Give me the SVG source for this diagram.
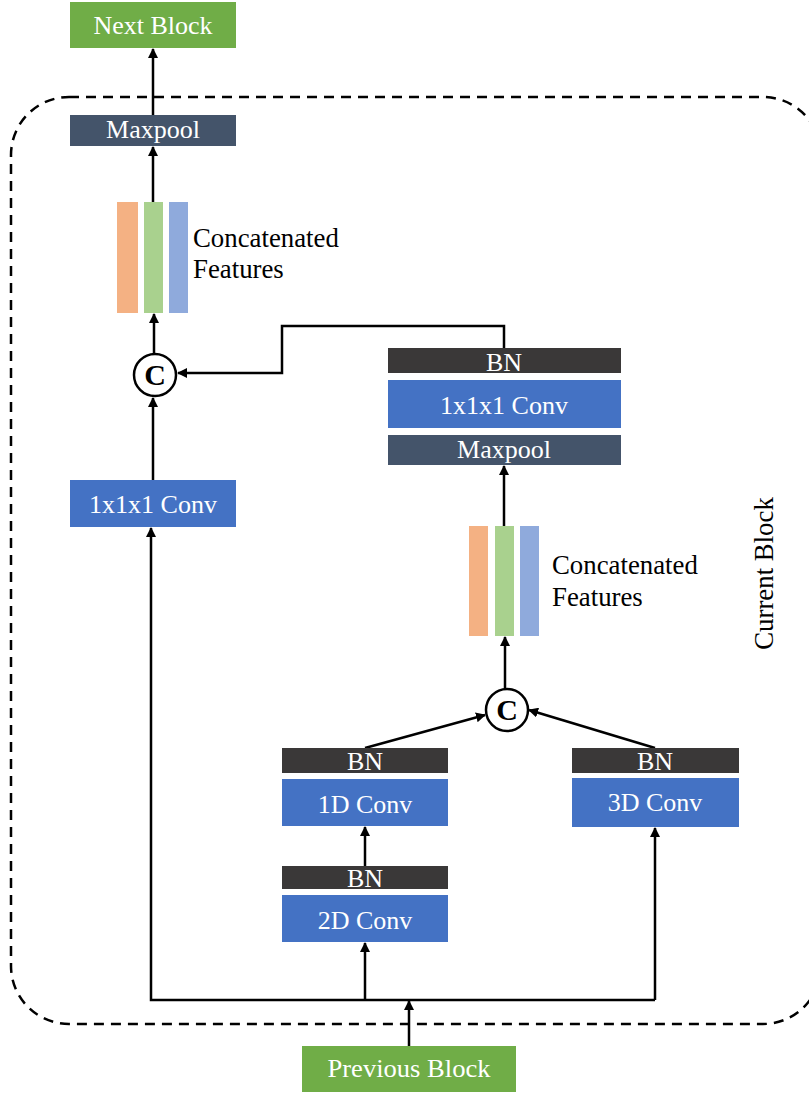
<svg xmlns="http://www.w3.org/2000/svg" width="809" height="1093" viewBox="0 0 809 1093">
<style>
.t{font-family:"Liberation Serif","Times New Roman",serif;font-size:26px;fill:#fff;text-anchor:middle}
.k{font-family:"Liberation Serif","Times New Roman",serif;font-size:26.8px;fill:#000}
.c{font-family:"Liberation Serif","Times New Roman",serif;font-size:30px;font-weight:bold;fill:#000;text-anchor:middle}
.g{fill:#70AD47}.m{fill:#44546A}.b{fill:#4472C4}.n{fill:#3A3838}
.o{fill:#F4B183}.gr{fill:#A9D18E}.bl{fill:#8FAADC}
.ln{fill:none;stroke:#000;stroke-width:2.5}
.ci{fill:#fff;stroke:#000;stroke-width:2.5}
</style>
<defs>
<marker id="a" viewBox="0 0 10 10" refX="9" refY="5" markerWidth="4" markerHeight="4" orient="auto" markerUnits="strokeWidth">
<path d="M0,0 L10,5 L0,10 z" fill="#000"/>
</marker>
</defs>
<rect id="current-block" x="11" y="97" width="810" height="927" rx="58" ry="58" fill="none" stroke="#000" stroke-width="2.5" stroke-dasharray="10,7"/>
<text class="k" transform="translate(773,573.5) rotate(-90)" text-anchor="middle">Current Block</text>
<g id="connectors">
<line class="ln" x1="153" y1="115" x2="153" y2="49" marker-end="url(#a)"/>
<line class="ln" x1="153" y1="202" x2="153" y2="147" marker-end="url(#a)"/>
<line class="ln" x1="154" y1="353" x2="154" y2="314" marker-end="url(#a)"/>
<line class="ln" x1="153" y1="480" x2="153" y2="398" marker-end="url(#a)"/>
<polyline class="ln" points="504,348 504,326 282,326 282,373 178,373" marker-end="url(#a)"/>
<line class="ln" x1="504" y1="527" x2="504" y2="466" marker-end="url(#a)"/>
<line class="ln" x1="505" y1="689" x2="505" y2="637" marker-end="url(#a)"/>
<line class="ln" x1="365" y1="748" x2="485" y2="715" marker-end="url(#a)"/>
<line class="ln" x1="655" y1="748" x2="529" y2="710" marker-end="url(#a)"/>
<line class="ln" x1="365" y1="866" x2="365" y2="827" marker-end="url(#a)"/>
<path class="ln" d="M655,1000 H151 V528" marker-end="url(#a)"/>
<line class="ln" x1="365" y1="1000" x2="365" y2="943" marker-end="url(#a)"/>
<line class="ln" x1="655" y1="1000" x2="655" y2="828" marker-end="url(#a)"/>
<line class="ln" x1="409" y1="1046" x2="409" y2="1001" marker-end="url(#a)"/>
</g>
<g id="next-block"><rect class="g" x="70" y="2" width="166" height="46"/><text class="t" x="153" y="34">Next Block</text></g>
<g id="maxpool-top"><rect class="m" x="70" y="115" width="166" height="31"/><text class="t" x="153" y="138">Maxpool</text></g>
<g id="features-top">
<rect class="o" x="117" y="202" width="21" height="111"/>
<rect class="gr" x="144" y="202" width="19" height="111"/>
<rect class="bl" x="169" y="202" width="19" height="111"/>
<text class="k" x="193" y="247">Concatenated</text>
<text class="k" x="193" y="278">Features</text>
</g>
<g id="concat-top"><circle class="ci" cx="155" cy="375" r="21"/><text class="c" x="155" y="385">C</text></g>
<g id="conv-1x1x1-left"><rect class="b" x="70" y="480" width="166" height="47"/><text class="t" x="153" y="513">1x1x1 Conv</text></g>
<g id="bn-right-top"><rect class="n" x="388" y="348" width="233" height="25"/><text class="t" x="504" y="371">BN</text></g>
<g id="conv-1x1x1-right"><rect class="b" x="388" y="380" width="233" height="48"/><text class="t" x="504" y="414">1x1x1 Conv</text></g>
<g id="maxpool-mid"><rect class="m" x="388" y="435" width="233" height="30"/><text class="t" x="504" y="458">Maxpool</text></g>
<g id="features-mid">
<rect class="o" x="469" y="526" width="19" height="110"/>
<rect class="gr" x="495" y="526" width="19" height="110"/>
<rect class="bl" x="520" y="526" width="19" height="110"/>
<text class="k" x="552" y="574">Concatenated</text>
<text class="k" x="552" y="606">Features</text>
</g>
<g id="concat-mid"><circle class="ci" cx="507" cy="710" r="21"/><text class="c" x="507" y="720">C</text></g>
<g id="bn-1d"><rect class="n" x="282" y="748" width="166" height="25"/><text class="t" x="365" y="770">BN</text></g>
<g id="conv-1d"><rect class="b" x="282" y="779" width="166" height="47"/><text class="t" x="365" y="813">1D Conv</text></g>
<g id="bn-2d"><rect class="n" x="282" y="866" width="166" height="23"/><text class="t" x="365" y="887">BN</text></g>
<g id="conv-2d"><rect class="b" x="282" y="895" width="166" height="47"/><text class="t" x="365" y="929">2D Conv</text></g>
<g id="bn-3d"><rect class="n" x="572" y="748" width="167" height="25"/><text class="t" x="655" y="770">BN</text></g>
<g id="conv-3d"><rect class="b" x="572" y="778" width="167" height="49"/><text class="t" x="655" y="811">3D Conv</text></g>
<g id="previous-block"><rect class="g" x="302" y="1046" width="214" height="46"/><text class="t" x="409" y="1077" textLength="163" lengthAdjust="spacingAndGlyphs">Previous Block</text></g>
</svg>
